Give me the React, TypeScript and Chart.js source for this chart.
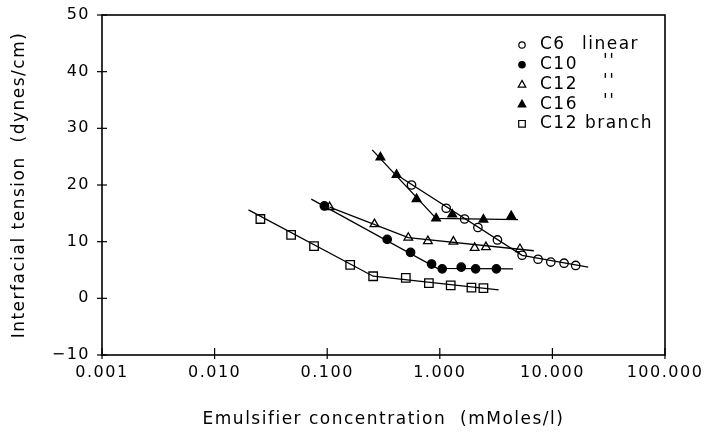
import React, { useEffect, useRef } from "react";
import { Chart, registerables } from "chart.js";

Chart.register(...registerables);

// ---- Data ----
const xTickValues = [0.001, 0.01, 0.1, 1, 10, 100];
const yTickValues = [-10, 0, 10, 20, 30, 40, 50];

const c6X = [0.561, 1.14, 1.66, 2.18, 3.25, 5.38, 7.46, 9.68, 12.7, 16.1];
const c6Y = [20.0, 15.9, 14.0, 12.5, 10.3, 7.6, 6.9, 6.4, 6.2, 5.8];
const c6FitX = [0.413, 5.38, 20.8];
const c6FitY = [21.8, 7.6, 5.5];

const c10X = [0.0944, 0.341, 0.55, 0.845, 1.05, 1.55, 2.08, 3.18];
const c10Y = [16.3, 10.4, 8.1, 6.05, 5.2, 5.5, 5.2, 5.2];
const c10FitX = [0.0722, 0.95, 4.47];
const c10FitY = [17.5, 5.3, 5.2];

const c12X = [0.105, 0.263, 0.525, 0.784, 1.32, 2.04, 2.57, 5.15];
const c12Y = [16.1, 13.1, 10.7, 10.1, 10.0, 8.9, 9.05, 8.7];
const c12FitX = [0.105, 0.525, 6.84];
const c12FitY = [16.1, 10.7, 8.4];

const c16X = [0.297, 0.413, 0.622, 0.927, 1.29, 2.44, 4.31];
const c16Y = [24.9, 21.8, 17.5, 14.1, 14.8, 13.9, 14.5];
const c16FitX = [0.251, 0.927, 4.95];
const c16FitY = [26.2, 14.1, 13.9];

const brX = [0.0255, 0.0478, 0.0764, 0.16, 0.256, 0.499, 0.8, 1.25, 1.91, 2.44];
const brY = [14.0, 11.2, 9.2, 5.9, 3.9, 3.6, 2.7, 2.3, 1.9, 1.8];
const brFitX = [0.02, 0.256, 3.33];
const brFitY = [15.6, 3.9, 1.5];

const legendLabels = ["C6", "C10", "C12", "C16", "C12 branch"];
const legendNotes = ["linear", "''", "''", "''", ""];

const FONT = "'DejaVu Sans', sans-serif";
const SPACING = "1.5px";

const zip = (xs: number[], ys: number[]) => xs.map((x, i) => ({ x, y: ys[i] }));

type Style = { pointStyle: string; fill: boolean; radius: number };
const styles: Style[] = [
  { pointStyle: "circle", fill: false, radius: 4.2 },
  { pointStyle: "circle", fill: true, radius: 4.2 },
  { pointStyle: "triangle", fill: false, radius: 5 },
  { pointStyle: "triangle", fill: true, radius: 5 },
  { pointStyle: "rect", fill: false, radius: 6 },
];

const seriesPts = [
  zip(c6X, c6Y),
  zip(c10X, c10Y),
  zip(c12X, c12Y),
  zip(c16X, c16Y),
  zip(brX, brY),
];
const seriesFit = [
  zip(c6FitX, c6FitY),
  zip(c10FitX, c10FitY),
  zip(c12FitX, c12FitY),
  zip(c16FitX, c16FitY),
  zip(brFitX, brFitY),
];

const spacingPlugin = {
  id: "spacing",
  beforeLayout(chart: any) {
    chart.ctx.letterSpacing = SPACING;
  },
  beforeDraw(chart: any) {
    chart.ctx.letterSpacing = SPACING;
  },
};

const framePlugin = {
  id: "frame",
  afterDraw(chart: any) {
    const { ctx, chartArea } = chart;
    const { left, right, top, bottom } = chartArea;
    ctx.save();
    ctx.strokeStyle = "#000";
    ctx.lineWidth = 1.6;
    ctx.strokeRect(left, top, right - left, bottom - top);
    ctx.lineWidth = 1.2;
    const xs = chart.scales.x;
    const ys = chart.scales.y;
    xTickValues.forEach((v) => {
      const px = xs.getPixelForValue(v);
      ctx.beginPath();
      ctx.moveTo(px, bottom - 7);
      ctx.lineTo(px, bottom + 4);
      ctx.stroke();
    });
    yTickValues.forEach((v) => {
      const py = ys.getPixelForValue(v);
      ctx.beginPath();
      ctx.moveTo(left - 5, py);
      ctx.lineTo(left + 5, py);
      ctx.stroke();
    });
    // legend
    const lx = 522;
    const ly0 = 45;
    const dy = 19.7;
    ctx.letterSpacing = SPACING;
    ctx.font = `17px ${FONT}`;
    ctx.textBaseline = "middle";
    ctx.textAlign = "left";
    legendLabels.forEach((lab, i) => {
      const y = ly0 + i * dy;
      const st = styles[i];
      ctx.lineWidth = 1.2;
      ctx.strokeStyle = "#000";
      ctx.fillStyle = st.fill ? "#000" : "#fff";
      ctx.beginPath();
      if (st.pointStyle === "circle") {
        ctx.arc(lx, y, 3.2, 0, Math.PI * 2);
        ctx.fill();
        ctx.stroke();
      } else if (st.pointStyle === "triangle") {
        ctx.moveTo(lx, y - 4);
        ctx.lineTo(lx + 3.8, y + 2.8);
        ctx.lineTo(lx - 3.8, y + 2.8);
        ctx.closePath();
        ctx.fill();
        ctx.stroke();
      } else {
        ctx.rect(lx - 3.3, y - 3.3, 6.6, 6.6);
        ctx.fill();
        ctx.stroke();
      }
      ctx.fillStyle = "#000";
      ctx.fillText(lab, 540, y);
      if (legendNotes[i] === "linear") ctx.fillText(legendNotes[i], 582, y);
      else if (legendNotes[i]) ctx.fillText(legendNotes[i], 603, y - 3);
    });
    ctx.restore();
  },
};

export default function App() {
  const ref = useRef<HTMLCanvasElement | null>(null);
  useEffect(() => {
    if (!ref.current) return;
    const datasets: any[] = [];
    seriesFit.forEach((pts) => {
      datasets.push({
        data: pts,
        showLine: true,
        borderColor: "#000",
        borderWidth: 1.3,
        pointRadius: 0,
        fill: false,
        tension: 0,
      });
    });
    seriesPts.forEach((pts, i) => {
      const st = styles[i];
      datasets.push({
        data: pts,
        showLine: false,
        pointStyle: st.pointStyle,
        pointRadius: st.radius,
        pointBorderWidth: 1.3,
        pointBorderColor: "#000",
        pointBackgroundColor: st.fill ? "#000" : "#fff",
        borderColor: "#000",
        backgroundColor: st.fill ? "#000" : "#fff",
      });
    });
    const chart = new Chart(ref.current, {
      type: "scatter",
      data: { datasets },
      options: {
        responsive: false,
        animation: false,
        layout: { padding: { top: 15, right: 42, left: 0, bottom: 0 } },
        plugins: { legend: { display: false }, tooltip: { enabled: false } },
        scales: {
          x: {
            type: "logarithmic",
            min: 0.001,
            max: 100,
            afterBuildTicks: (scale: any) => {
              scale.ticks = xTickValues.map((v) => ({ value: v }));
            },
            afterFit: (scale: any) => {
              scale.height = 83;
              scale.paddingLeft = 0;
              scale.paddingRight = 0;
            },
            ticks: {
              autoSkip: false,
              maxRotation: 0,
              padding: 8,
              color: "#000",
              font: { family: FONT, size: 16 },
              callback: (v: any) => Number(v).toFixed(3),
            },
            grid: { display: true, drawOnChartArea: false, drawTicks: false },
            border: { display: false },
            title: {
              display: true,
              text: "Emulsifier concentration  (mMoles/l)",
              color: "#000",
              font: { family: FONT, size: 17 },
              padding: { top: 0, bottom: 8 },
            },
          },
          y: {
            type: "linear",
            min: -10,
            max: 50,
            afterBuildTicks: (scale: any) => {
              scale.ticks = yTickValues.map((v) => ({ value: v }));
            },
            afterFit: (scale: any) => {
              scale.width = 102;
              scale.paddingTop = 0;
              scale.paddingBottom = 0;
            },
            ticks: {
              padding: 12,
              color: "#000",
              font: { family: FONT, size: 16 },
              callback: (v: any) => (Number(v) < 0 ? "\u2212" + Math.abs(Number(v)) : String(v)),
            },
            grid: { display: true, drawOnChartArea: false, drawTicks: false },
            border: { display: false },
            title: {
              display: true,
              text: "Interfacial tension  (dynes/cm)",
              color: "#000",
              font: { family: FONT, size: 17 },
              padding: { top: 9, bottom: 0 },
            },
          },
        },
      },
      plugins: [spacingPlugin, framePlugin],
    });
    return () => chart.destroy();
  }, []);
  return (
    <div style={{ position: "absolute", left: 0, top: 0, width: 707, height: 438, background: "#fff" }}>
      <canvas ref={ref} width={707} height={438} />
    </div>
  );
}
